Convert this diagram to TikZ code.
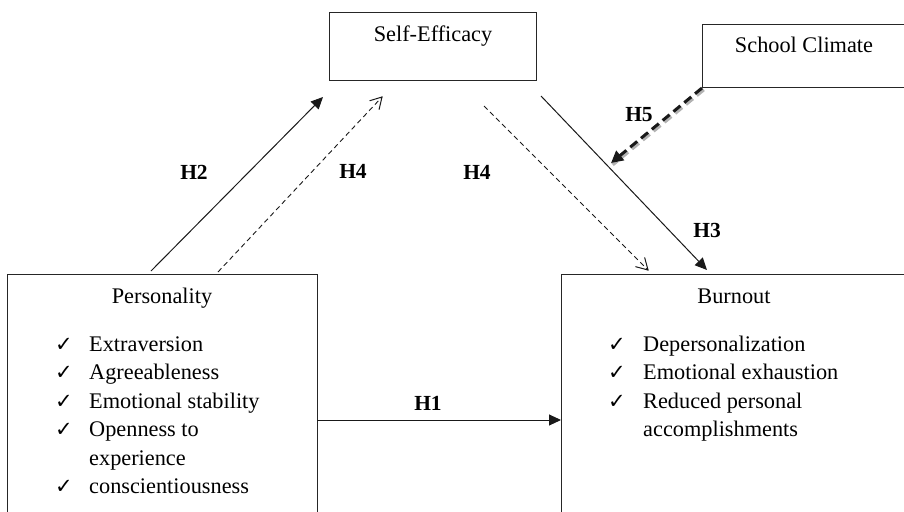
\documentclass[tikz,border=0pt]{standalone}
\usepackage{fontspec}
\setmainfont{Liberation Serif}
\newfontfamily\symfont{DejaVu Sans}
\usetikzlibrary{arrows.meta,calc}
\begin{document}
\begin{tikzpicture}[x=1pt,y=-1pt,
  box/.style={draw=black!85, line width=1pt, inner sep=0pt},
  txt/.style={font=\fontsize{22.3}{28}\selectfont, inner sep=0pt, anchor=base},
  item/.style={font=\fontsize{22.3}{28}\selectfont, inner sep=0pt, anchor=base west},
  chk/.style={font=\symfont\fontsize{21}{24}\selectfont, inner sep=0pt, anchor=base west},
  lab/.style={font=\fontsize{21.5}{26}\selectfont\bfseries, inner sep=0pt},
  solidarrow/.style={draw=black!90, line width=1pt, -{Triangle[length=12pt,width=11pt]}},
  dashline/.style={draw=black!90, line width=0.9pt, dash pattern=on 5pt off 3.5pt},
  opentip/.style={draw=black!90, line width=1pt, solid, line join=miter},
  thickarrow/.style={draw=black!90, line width=3pt, dash pattern=on 9pt off 5pt, -{Triangle[length=12pt,width=12pt]}},
  shadowarrow/.style={draw=black!30, line width=4pt, dash pattern=on 9pt off 5pt}
]
\useasboundingbox (0,0) rectangle (904,511);
\clip (0,0) rectangle (904,511);

% boxes
\node[box, minimum width=207, minimum height=68, anchor=north west] (se) at (329,12) {};
\node[box, minimum width=206, minimum height=63, anchor=north west] (sc) at (702,24) {};
\node[box, minimum width=310, minimum height=260, anchor=north west] (pers) at (7,274) {};
\node[box, minimum width=346, minimum height=260, anchor=north west] (burn) at (561,274) {};

% titles
\node[txt] (setext) at (433,41.5) {Self-Efficacy};
\node[txt] (sctext) at (804,52.5) {School Climate};
\node[txt] (perstext) at (162,303) {Personality};
\node[txt] (burntext) at (734,303) {Burnout};

% personality list
\node[chk] (pc1) at (55,351) {✓};
\node[item] (p1) at (89,351) {Extraversion};
\node[chk] (pc2) at (55,379.5) {✓};
\node[item] (p2) at (89,379.5) {Agreeableness};
\node[chk] (pc3) at (55,408) {✓};
\node[item] (p3) at (89,408) {Emotional stability};
\node[chk] (pc4) at (55,436.5) {✓};
\node[item] (p4) at (89,436.5) {Openness to};
\node[item] (p4b) at (89,465) {experience};
\node[chk] (pc5) at (55,493.5) {✓};
\node[item] (p5) at (89,493.5) {conscientiousness};

% burnout list
\node[chk] (bc1) at (608,351) {✓};
\node[item] (b1) at (643,351) {Depersonalization};
\node[chk] (bc2) at (608,379.5) {✓};
\node[item] (b2) at (643,379.5) {Emotional exhaustion};
\node[chk] (bc3) at (608,408) {✓};
\node[item] (b3) at (643,408) {Reduced personal};
\node[item] (b3b) at (643,436.5) {accomplishments};

% connector end points
\coordinate (h2s) at (151,271);
\coordinate (h2e) at (323,97);
\coordinate (h4as) at (218,272);
\coordinate (h4ae) at (382,97);
\coordinate (h4bs) at (484,106);
\coordinate (h4be) at (648,270);
\coordinate (h3s) at (541,96);
\coordinate (h3e) at (707,270);
\coordinate (h5e) at (611,163);
\coordinate (h1s) at (317,420);

% connectors
\draw[solidarrow] (h2s) -- (h2e);
\draw[dashline] (h4as) -- (h4ae);
\draw[opentip] ($(h4ae)!13pt!30:(h4as)$) -- (h4ae) -- ($(h4ae)!13pt!-30:(h4as)$);
\draw[dashline] (h4bs) -- (h4be);
\draw[opentip] ($(h4be)!13pt!30:(h4bs)$) -- (h4be) -- ($(h4be)!13pt!-30:(h4bs)$);
\draw[solidarrow] (h3s) -- (h3e);
\draw[solidarrow] (h1s) -- (burn.west |- h1s);
\draw[shadowarrow, transform canvas={shift={(1.5pt,-1.5pt)}}] (sc.south west) -- (h5e);
\draw[thickarrow] (sc.south west) -- (h5e);

% labels
\node[lab] (lh2) at (194,172) {H2};
\node[lab] (lh4a) at (353,171) {H4};
\node[lab] (lh4b) at (477,172) {H4};
\node[lab] (lh5) at (639,115) {H5};
\node[lab] (lh3) at (707,230) {H3};
\node[lab] (lh1) at (428,403) {H1};
\end{tikzpicture}
\end{document}
